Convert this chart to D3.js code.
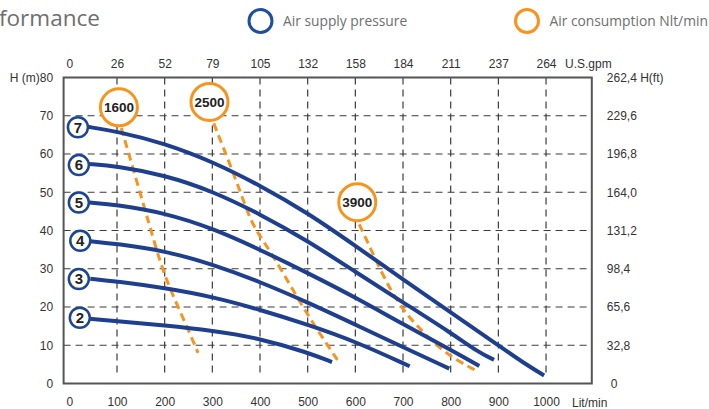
<!DOCTYPE html>
<html>
<head>
<meta charset="utf-8">
<script src="https://cdn.jsdelivr.net/npm/d3@7"></script>
<style>
  body { margin: 0; background: #fff; }
  svg { display: block; }
  .tick text { font-family: "Liberation Sans", Arial, sans-serif; font-size: 12px; fill: #333; }
</style>
</head>
<body>
<svg width="709" height="409"></svg>
<script>
var svg = d3.select("svg");

// axis values
var flowTicks = [0, 100, 200, 300, 400, 500, 600, 700, 800, 900, 1000];
var gpmLabels = ["0", "26", "52", "79", "105", "132", "158", "184", "211", "237", "264"];
var headTicks = [0, 10, 20, 30, 40, 50, 60, 70, 80];
var ftLabels = ["0", "32,8", "65,6", "98,4", "131,2", "164,0", "196,8", "229,6", "262,4 H(ft)"];

// air supply pressure curves [Lit/min, H (m)]
var curve2 = [[44, 16.9], [100, 16.3], [200, 15.2], [300, 13.8], [400, 11.8], [500, 8.1], [551, 5.6]];
var curve3 = [[44, 27.4], [100, 26.7], [200, 25.0], [300, 22.7], [400, 19.3], [500, 15.4], [600, 11.0], [714, 4.5]];
var curve4 = [[44, 37.2], [100, 36.5], [200, 34.7], [300, 31.2], [400, 26.6], [500, 21.2], [600, 15.4], [700, 9.5], [797, 3.9]];
var curve5 = [[43, 47.3], [100, 46.7], [200, 44.6], [300, 40.6], [400, 35.0], [500, 28.9], [600, 22.5], [700, 15.5], [800, 8.8], [860, 4.6]];
var curve6 = [[39, 57.4], [100, 56.8], [200, 54.5], [300, 50.3], [400, 44.3], [500, 37.3], [600, 29.2], [700, 21.2], [800, 13.3], [860, 8.0], [891, 6.2]];
var curve7 = [[39, 67.1], [100, 65.9], [200, 62.8], [300, 58.0], [400, 51.8], [500, 44.6], [600, 36.0], [700, 27.2], [800, 18.6], [900, 10.0], [950, 5.6], [996, 2.1]];
var pressureNames = ["2", "3", "4", "5", "6", "7"];
var pressureCurves = [curve2, curve3, curve4, curve5, curve6, curve7];
var pressureLabelAt = [[22, 17.2], [20, 27.3], [23, 37.3], [20, 47.3], [20, 57.1], [18, 67.0]];

// air consumption lines
var air1600 = [[109, 66.8], [140, 53.5], [169, 41.0], [190, 31.9], [210, 25.0], [245, 15.4], [270, 8.0]];
var air2500 = [[303, 68.0], [343, 55.4], [371, 45.8], [388, 40.6], [427, 33.6], [469, 24.4], [511, 15.7], [565, 5.7]];
var air3900 = [[608, 41.6], [622, 38.0], [657, 28.4], [692, 20.5], [727, 15.3], [776, 9.2], [818, 5.7], [856, 3.2]];
var airNames = ["1600", "2500", "3900"];
var airLines = [air1600, air2500, air3900];
var airLabelAt = [[104, 72.2], [294, 73.6], [604, 47.4]];

var blue = "#1e3f8f", orange = "#f7941d";

var x = d3.scaleLinear().domain([-12, 1096]).range([63.6, 591.8]);
var y = d3.scaleLinear().domain([0, 80]).range([383.5, 77.5]);

// title + legend
svg.append("text").attr("x", -1).attr("y", 26)
    .style("font-family", "'Open Sans', sans-serif").style("font-size", "22.5px")
    .attr("fill", "#6d6e71").text("formance");

var legend = [
    { cx: 260.5, color: "#1d4f9e", label: "Air supply pressure" },
    { cx: 527, color: orange, label: "Air consumption Nlt/min" }
];
var lg = svg.selectAll(".legend").data(legend).enter().append("g").attr("class", "legend");
lg.append("circle").attr("cx", function (d) { return d.cx; }).attr("cy", 21).attr("r", 11.5)
    .attr("fill", "none").attr("stroke", function (d) { return d.color; }).attr("stroke-width", 3);
lg.append("text").attr("x", function (d) { return d.cx + 22.5; }).attr("y", 21).attr("dy", "0.35em")
    .style("font-family", "'Open Sans', sans-serif").style("font-size", "13.8px")
    .attr("fill", "#6d6e71").text(function (d) { return d.label; });

// grid
var grid = svg.append("g").attr("stroke", "#3c3c3c").attr("stroke-width", 1.2)
    .attr("stroke-dasharray", "7,5").attr("fill", "none");
grid.selectAll(".h").data(headTicks.slice(1, -1)).enter().append("line")
    .attr("x1", x(-12)).attr("x2", x(1096))
    .attr("y1", function (d) { return y(d); }).attr("y2", function (d) { return y(d); });
grid.selectAll(".v").data(flowTicks.slice(1)).enter().append("line")
    .attr("x1", function (d) { return x(d); }).attr("x2", function (d) { return x(d); })
    .attr("y1", y(80)).attr("y2", y(2));

// frame
svg.append("rect").attr("x", x(-12)).attr("y", y(80))
    .attr("width", x(1096) - x(-12)).attr("height", y(0) - y(80))
    .attr("fill", "none").attr("stroke", "#555").attr("stroke-width", 2);

// axes (labels only)
function noDomain(g) { g.select(".domain").remove(); }
svg.append("g").attr("transform", "translate(0," + y(0) + ")")
    .call(d3.axisBottom(x).tickValues(flowTicks).tickSize(0).tickPadding(14)
        .tickFormat(function (d) { return String(d); })).call(noDomain);
svg.append("g").attr("transform", "translate(0," + y(80) + ")")
    .call(d3.axisTop(x).tickValues(flowTicks).tickSize(0).tickPadding(10)
        .tickFormat(function (d, i) { return gpmLabels[i]; })).call(noDomain);
svg.append("g").attr("transform", "translate(" + x(-12) + ",0)")
    .call(d3.axisLeft(y).tickValues(headTicks).tickSize(0).tickPadding(10.5)
        .tickFormat(function (d) { return d === 80 ? "H (m)80" : d; })).call(noDomain);
var right = svg.append("g").attr("transform", "translate(" + x(1096) + ",0)")
    .call(d3.axisRight(y).tickValues(headTicks).tickSize(0).tickPadding(15)
        .tickFormat(function (d, i) { return ftLabels[i]; })).call(noDomain);
right.selectAll(".tick text").filter(function (d) { return d === 0; }).attr("x", 19);

svg.append("text").attr("x", 565).attr("y", 67.5)
    .style("font-family", "'Liberation Sans', Arial, sans-serif").style("font-size", "12px")
    .attr("fill", "#333").text("U.S.gpm");
svg.append("text").attr("x", 572).attr("y", 406.5)
    .style("font-family", "'Liberation Sans', Arial, sans-serif").style("font-size", "12px")
    .attr("fill", "#333").text("Lit/min");

var line = d3.line()
    .x(function (d) { return x(d[0]); })
    .y(function (d) { return y(d[1]); })
    .curve(d3.curveBasis);

// air consumption dashed lines
svg.append("g").selectAll("path").data(airLines).enter().append("path")
    .attr("d", line).attr("fill", "none").attr("stroke", orange)
    .attr("stroke-width", 3).attr("stroke-dasharray", "8,5");

// pressure curves
svg.append("g").selectAll("path").data(pressureCurves).enter().append("path")
    .attr("d", line).attr("fill", "none").attr("stroke", blue).attr("stroke-width", 4);

// pressure labels
var pl = svg.append("g").selectAll("g").data(pressureNames).enter().append("g")
    .attr("transform", function (d, i) {
        return "translate(" + x(pressureLabelAt[i][0]) + "," + y(pressureLabelAt[i][1]) + ")";
    });
pl.append("circle").attr("r", 10).attr("fill", "#fff").attr("stroke", "#1d4596").attr("stroke-width", 2.5);
pl.append("text").attr("text-anchor", "middle").attr("dy", "0.36em")
    .style("font-family", "'Liberation Sans', Arial, sans-serif").style("font-size", "15px")
    .style("font-weight", "bold").attr("fill", "#222").text(function (d) { return d; });

// air labels
var al = svg.append("g").selectAll("g").data(airNames).enter().append("g")
    .attr("transform", function (d, i) {
        return "translate(" + x(airLabelAt[i][0]) + "," + y(airLabelAt[i][1]) + ")";
    });
al.append("circle").attr("r", 18.5).attr("fill", "#fff").attr("stroke", orange).attr("stroke-width", 3);
al.append("text").attr("text-anchor", "middle").attr("dy", "0.36em")
    .style("font-family", "'Liberation Sans', Arial, sans-serif").style("font-size", "13.5px")
    .style("font-weight", "bold").attr("fill", "#222").text(function (d) { return d; });
</script>
</body>
</html>
